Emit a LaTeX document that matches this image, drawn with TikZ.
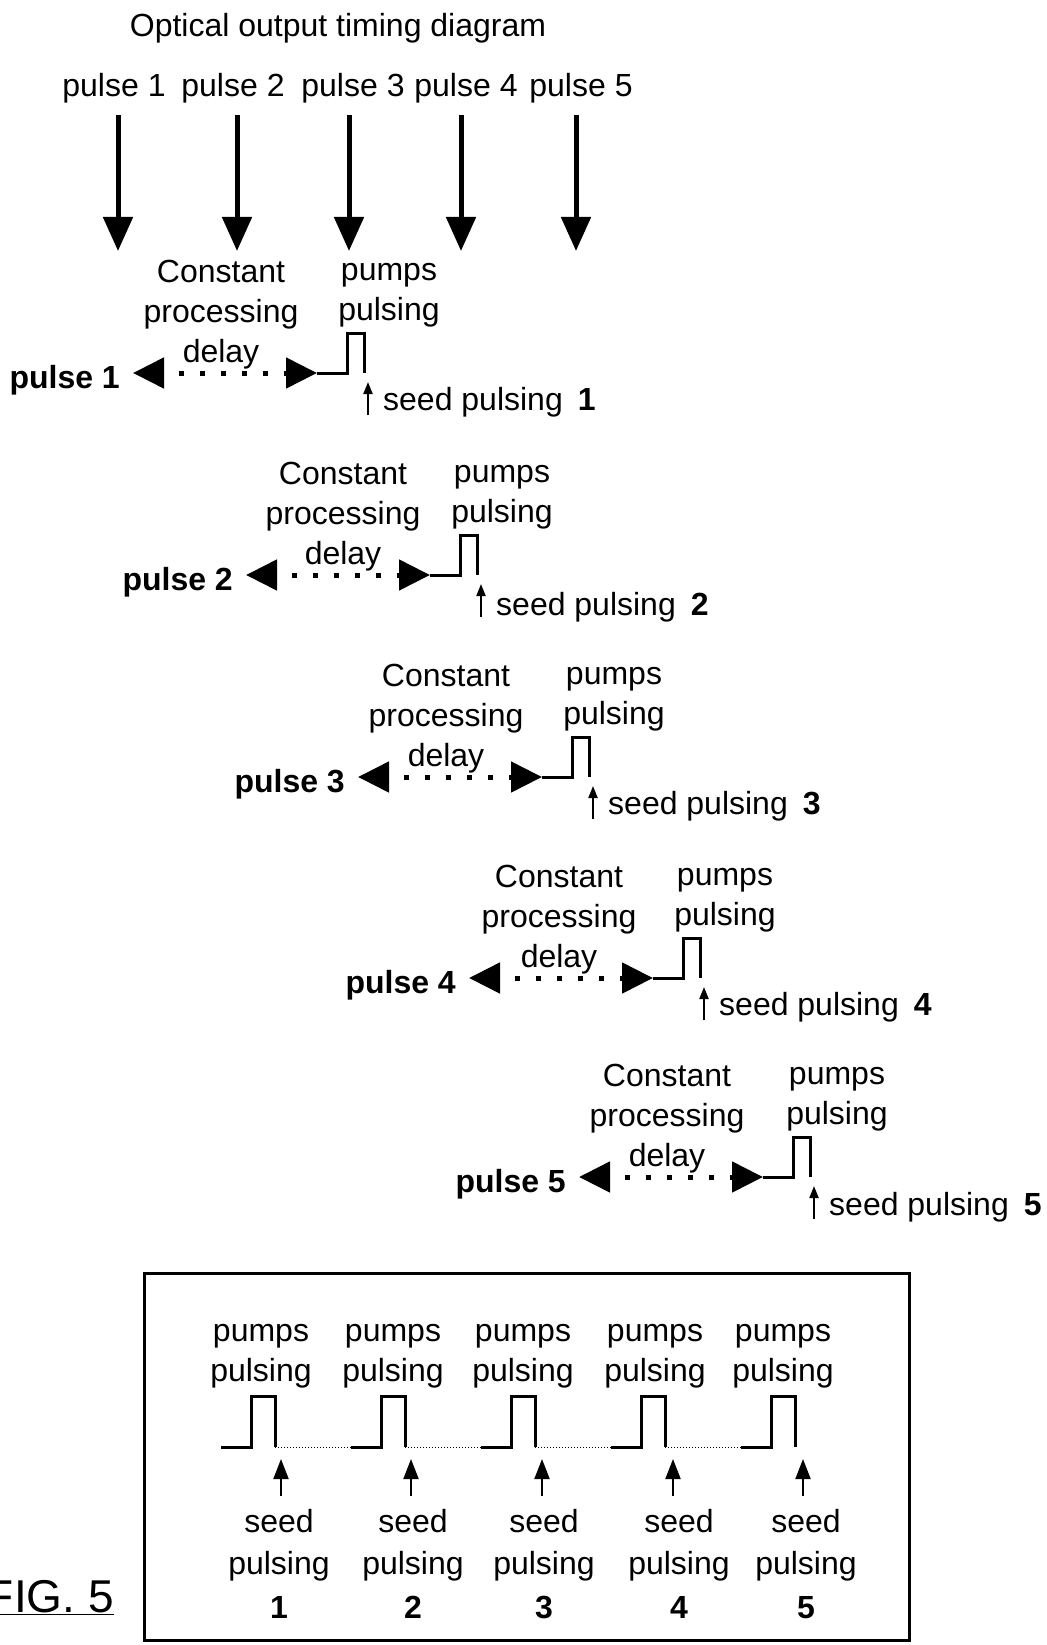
\documentclass[tikz,border=0pt]{standalone}
\usepackage{fontspec}
\setmainfont{Liberation Sans}
\usetikzlibrary{arrows.meta}

\begin{document}
\begin{tikzpicture}[
  every node/.style={font=\fontsize{32}{40}\selectfont, inner sep=0pt, align=center},
  boldlabel/.style={font=\fontsize{32}{40}\selectfont\bfseries, anchor=east},
  seedlabel/.style={anchor=west},
  downarrow/.style={line width=5pt, -{Triangle[length=34pt,width=29pt]}},
  delayarrow/.style={line width=5pt, dash pattern=on 5pt off 16pt, dash phase=5pt,
    {Triangle[length=31pt,width=30pt]}-{Triangle[length=31pt,width=30pt]}},
  wave/.style={line width=3pt},
  seedarrow/.style={line width=2pt, -{Triangle[length=12pt,width=9pt]}},
  boxseedarrow/.style={line width=2pt, -{Triangle[length=20pt,width=15pt]}},
  gap/.style={line width=1pt, dotted},
  frame/.style={line width=3pt},
  x=1pt, y=-1pt
]
  \useasboundingbox (0,0) rectangle (1046,1645);

  \node (title) at (338,28) {Optical output timing diagram};
  \node (t1) at (114,88) {pulse 1};
  \node (t2) at (233,88) {pulse 2};
  \node (t3) at (353,88) {pulse 3};
  \node (t4) at (466,88) {pulse 4};
  \node (t5) at (581,88) {pulse 5};
  \coordinate (d1) at (118,251);
  \coordinate (d2) at (237,251);
  \coordinate (d3) at (349,251);
  \coordinate (d4) at (461,251);
  \coordinate (d5) at (576,251);
  \draw[downarrow] (d1 |- t1.south) ++(0,12) -- (d1);
  \draw[downarrow] (d2 |- t2.south) ++(0,12) -- (d2);
  \draw[downarrow] (d3 |- t3.south) ++(0,12) -- (d3);
  \draw[downarrow] (d4 |- t4.south) ++(0,12) -- (d4);
  \draw[downarrow] (d5 |- t5.south) ++(0,12) -- (d5);

  \node[boldlabel] (p1) at (120,380) {pulse 1};
  \coordinate (l1) at (133,373);
  \coordinate (r1) at (317,373);
  \node (c1) at (221,315) {Constant\\processing\\delay};
  \node (u1) at (389,295) {pumps\\pulsing};
  \node[seedlabel] (s1) at (383,402) {seed pulsing\hspace{15pt}\textbf{1}};
  \draw[delayarrow] (l1) -- (r1);
  \draw[wave] (r1) -- ++(30,0) -- ++(0,-40) -- ++(17,0) -- ++(0,40) coordinate (f1);
  \draw[seedarrow] (f1) ++(4,42) -- ++(0,-33);

  \node[boldlabel] (p2) at (233,582) {pulse 2};
  \coordinate (l2) at (246,575);
  \coordinate (r2) at (430,575);
  \node (c2) at (343,517) {Constant\\processing\\delay};
  \node (u2) at (502,497) {pumps\\pulsing};
  \node[seedlabel] (s2) at (496,607) {seed pulsing\hspace{15pt}\textbf{2}};
  \draw[delayarrow] (l2) -- (r2);
  \draw[wave] (r2) -- ++(30,0) -- ++(0,-40) -- ++(17,0) -- ++(0,40) coordinate (f2);
  \draw[seedarrow] (f2) ++(4,42) -- ++(0,-33);

  \node[boldlabel] (p3) at (345,784) {pulse 3};
  \coordinate (l3) at (358,777);
  \coordinate (r3) at (542,777);
  \node (c3) at (446,719) {Constant\\processing\\delay};
  \node (u3) at (614,699) {pumps\\pulsing};
  \node[seedlabel] (s3) at (608,806) {seed pulsing\hspace{15pt}\textbf{3}};
  \draw[delayarrow] (l3) -- (r3);
  \draw[wave] (r3) -- ++(30,0) -- ++(0,-40) -- ++(17,0) -- ++(0,40) coordinate (f3);
  \draw[seedarrow] (f3) ++(4,42) -- ++(0,-33);

  \node[boldlabel] (p4) at (456,985) {pulse 4};
  \coordinate (l4) at (469,978);
  \coordinate (r4) at (653,978);
  \node (c4) at (559,920) {Constant\\processing\\delay};
  \node (u4) at (725,900) {pumps\\pulsing};
  \node[seedlabel] (s4) at (719,1007) {seed pulsing\hspace{15pt}\textbf{4}};
  \draw[delayarrow] (l4) -- (r4);
  \draw[wave] (r4) -- ++(30,0) -- ++(0,-40) -- ++(17,0) -- ++(0,40) coordinate (f4);
  \draw[seedarrow] (f4) ++(4,42) -- ++(0,-33);

  \node[boldlabel] (p5) at (566,1184) {pulse 5};
  \coordinate (l5) at (579,1177);
  \coordinate (r5) at (763,1177);
  \node (c5) at (667,1119) {Constant\\processing\\delay};
  \node (u5) at (837,1099) {pumps\\pulsing};
  \node[seedlabel] (s5) at (829,1207) {seed pulsing\hspace{15pt}\textbf{5}};
  \draw[delayarrow] (l5) -- (r5);
  \draw[wave] (r5) -- ++(30,0) -- ++(0,-40) -- ++(17,0) -- ++(0,40) coordinate (f5);
  \draw[seedarrow] (f5) ++(4,42) -- ++(0,-33);

  \draw[frame] (144,1273) rectangle (909,1640);
  \coordinate (w1) at (221,1447);
  \coordinate (w2) at (351,1447);
  \coordinate (w3) at (481,1447);
  \coordinate (w4) at (611,1447);
  \coordinate (w5) at (741,1447);
  \draw[wave] (w1) -- ++(30,0) -- ++(0,-51) -- ++(24,0) -- ++(0,51) coordinate (g1);
  \draw[wave] (w2) -- ++(30,0) -- ++(0,-51) -- ++(24,0) -- ++(0,51) coordinate (g2);
  \draw[wave] (w3) -- ++(30,0) -- ++(0,-51) -- ++(24,0) -- ++(0,51) coordinate (g3);
  \draw[wave] (w4) -- ++(30,0) -- ++(0,-51) -- ++(24,0) -- ++(0,51) coordinate (g4);
  \draw[wave] (w5) -- ++(30,0) -- ++(0,-51) -- ++(24,0) -- ++(0,51) coordinate (g5);
  \draw[gap] (g1) -- (w2);
  \draw[gap] (g2) -- (w3);
  \draw[gap] (g3) -- (w4);
  \draw[gap] (g4) -- (w5);
  \node (pp1) at (261,1356) {pumps\\pulsing};
  \node (pp2) at (393,1356) {pumps\\pulsing};
  \node (pp3) at (523,1356) {pumps\\pulsing};
  \node (pp4) at (655,1356) {pumps\\pulsing};
  \node (pp5) at (783,1356) {pumps\\pulsing};
  \node (sp1) at (279,1564) {seed\\[2pt]pulsing\\[4pt]\textbf{1}};
  \node (sp2) at (413,1564) {seed\\[2pt]pulsing\\[4pt]\textbf{2}};
  \node (sp3) at (544,1564) {seed\\[2pt]pulsing\\[4pt]\textbf{3}};
  \node (sp4) at (679,1564) {seed\\[2pt]pulsing\\[4pt]\textbf{4}};
  \node (sp5) at (806,1564) {seed\\[2pt]pulsing\\[4pt]\textbf{5}};
  \draw[boxseedarrow] (g1) ++(6,49) -- ++(0,-37);
  \draw[boxseedarrow] (g2) ++(6,49) -- ++(0,-37);
  \draw[boxseedarrow] (g3) ++(7,49) -- ++(0,-37);
  \draw[boxseedarrow] (g4) ++(8,49) -- ++(0,-37);
  \draw[boxseedarrow] (g5) ++(8,49) -- ++(0,-37);

  \node[font=\fontsize{46}{50}\selectfont, anchor=base east] (fig) at (114,1612) {\underline{FIG. 5}};
\end{tikzpicture}
\end{document}
